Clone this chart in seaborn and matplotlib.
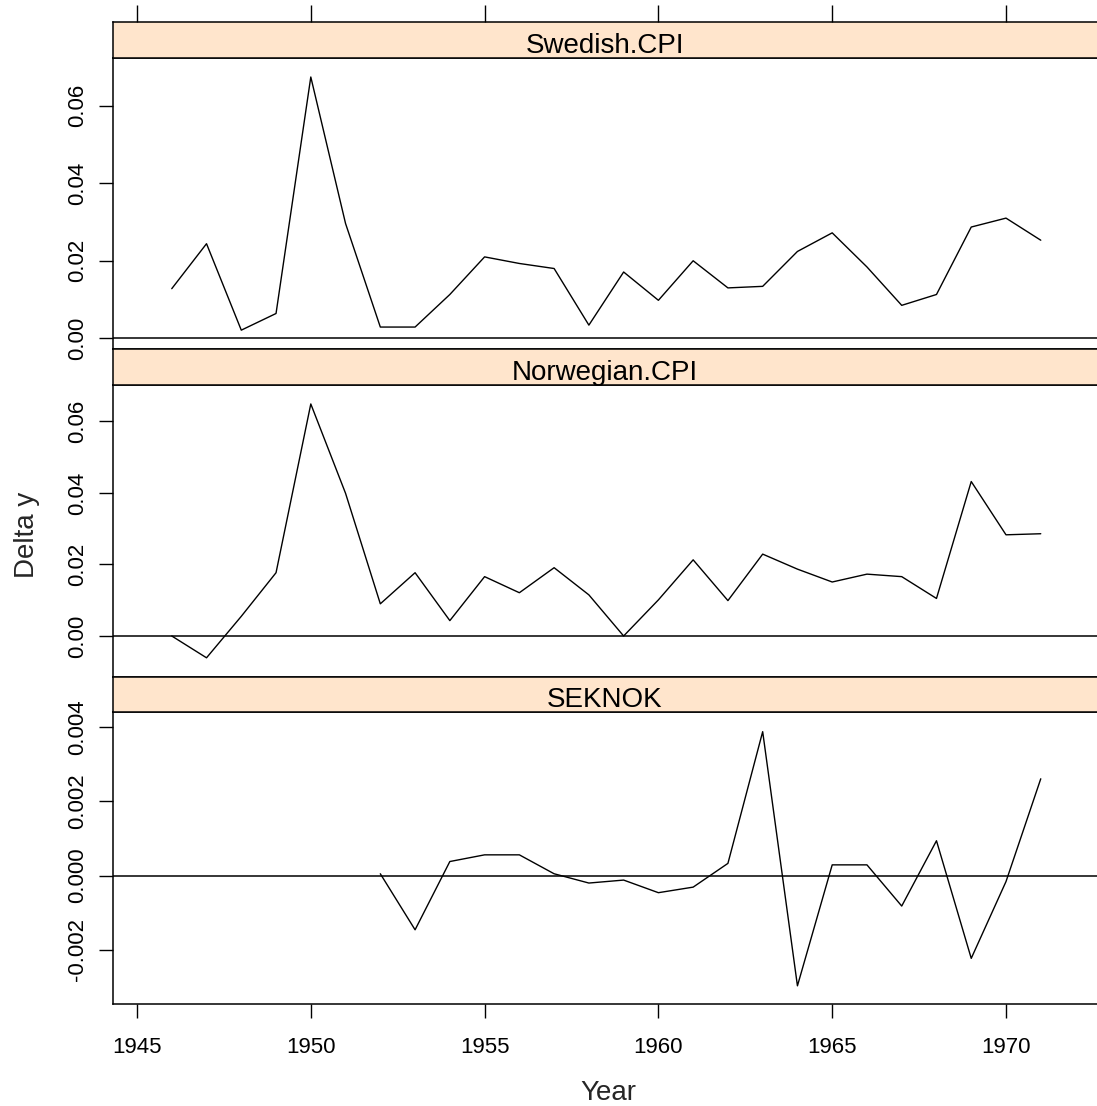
import numpy as np
import pandas as pd
import matplotlib
matplotlib.use("Agg")
import matplotlib.pyplot as plt
import seaborn as sns

# ---- data ----
years = list(range(1946, 1972))
swedish_cpi = [0.0128, 0.0244, 0.0021, 0.0064, 0.0674, 0.0296, 0.0029, 0.0029, 0.0113,
               0.0210, 0.0193, 0.0180, 0.0034, 0.0171, 0.0098, 0.0200, 0.0130, 0.0134,
               0.0224, 0.0272, 0.0184, 0.0085, 0.0113, 0.0287, 0.0310, 0.0253]
norwegian_cpi = [0.0000, -0.0061, 0.0055, 0.0177, 0.0649, 0.0399, 0.0090, 0.0177, 0.0043,
                 0.0166, 0.0121, 0.0191, 0.0115, 0.0000, 0.0101, 0.0213, 0.0099, 0.0229,
                 0.0187, 0.0151, 0.0173, 0.0166, 0.0105, 0.0432, 0.0283, 0.0286]
seknok_years = list(range(1952, 1972))
seknok = [0.00005, -0.00146, 0.00038, 0.00056, 0.00056, 0.00005, -0.00020, -0.00012,
          -0.00046, -0.00031, 0.00033, 0.00388, -0.00297, 0.00029, 0.00029, -0.00082,
          0.00094, -0.00223, -0.00016, 0.00261]

panel_names = ["Swedish.CPI", "Norwegian.CPI", "SEKNOK"]
x_ticks = [1945, 1950, 1955, 1960, 1965, 1970]
y_ticks = [[0.00, 0.02, 0.04, 0.06], [0.00, 0.02, 0.04, 0.06], [-0.002, 0.000, 0.002, 0.004]]
y_ticklabels = [["0.00", "0.02", "0.04", "0.06"], ["0.00", "0.02", "0.04", "0.06"],
                ["-0.002", "0.000", "0.002", "0.004"]]
y_limits = [(-0.00276, 0.0723), (-0.01147, 0.0702), (-0.00346, 0.00441)]

series = [
    pd.DataFrame({"Year": years, "Delta y": swedish_cpi}),
    pd.DataFrame({"Year": years, "Delta y": norwegian_cpi}),
    pd.DataFrame({"Year": seknok_years, "Delta y": seknok}),
]

sns.set_style("white")
plt.rcParams["font.family"] = ["Liberation Sans", "DejaVu Sans"]

W, H = 1097, 1106
fig = plt.figure(figsize=(W / 100, H / 100), dpi=100)

left_px, right_px = 113, 1100
px_per_year = 34.76
xlim = (1945 + (left_px - 137) / px_per_year, 1945 + (right_px - 137) / px_per_year)

# (strip_top, plot_top, plot_bottom) in pixels
rows = [(22, 58, 349), (349, 385, 677), (677, 712, 1004)]
strip_color = "#FFE5CC"
lw_border = 1.1

def fig_rect(top, bottom):
    return [left_px / W, 1 - bottom / H, (right_px - left_px) / W, (bottom - top) / H]

text_center_frac = ((left_px + 1097) / 2 - left_px) / (right_px - left_px)

for i, (st, pt, pb) in enumerate(rows):
    ax = fig.add_axes(fig_rect(pt, pb))
    df = series[i]
    ax.axhline(0, color="black", lw=1.1, zorder=1)
    sns.lineplot(data=df, x="Year", y="Delta y", ax=ax, color="black", lw=1.0,
                 zorder=2, estimator=None)
    ax.set_xlim(*xlim)
    ax.set_ylim(*y_limits[i])
    ax.set_yticks(y_ticks[i])
    ax.set_yticklabels(y_ticklabels[i], rotation=90, va="center", fontsize=16)
    ax.set_xlabel("")
    ax.set_ylabel("")
    for s in ax.spines.values():
        s.set_color("black")
        s.set_linewidth(lw_border)
    ax.tick_params(axis="y", direction="out", length=10, width=1, pad=8,
                   left=True, colors="black")
    if i == 2:
        ax.set_xticks(x_ticks)
        ax.set_xticklabels([str(t) for t in x_ticks], fontsize=16)
        ax.tick_params(axis="x", direction="out", length=10, width=1, pad=14,
                       bottom=True, colors="black")
    else:
        ax.set_xticks([])

    # strip
    sax = fig.add_axes(fig_rect(st, pt))
    sax.set_facecolor(strip_color)
    sax.set_xlim(*xlim)
    sax.set_yticks([])
    for s in sax.spines.values():
        s.set_color("black")
        s.set_linewidth(lw_border)
    sax.text(text_center_frac, 0.13, panel_names[i], transform=sax.transAxes,
             ha="center", va="baseline", fontsize=20, color="black")
    if i == 0:
        sax.xaxis.tick_top()
        sax.set_xticks(x_ticks)
        sax.set_xticklabels([])
        sax.tick_params(axis="x", direction="out", length=12, width=1, top=True,
                        colors="black")
    else:
        sax.set_xticks([])

fig.text(608 / W, 1 - 1093 / H, "Year", ha="center", va="center", fontsize=20)
fig.text(27 / W, 1 - 535 / H, "Delta y", ha="center", va="center", rotation=90, fontsize=20)

fig.savefig("out.png", dpi=100)
